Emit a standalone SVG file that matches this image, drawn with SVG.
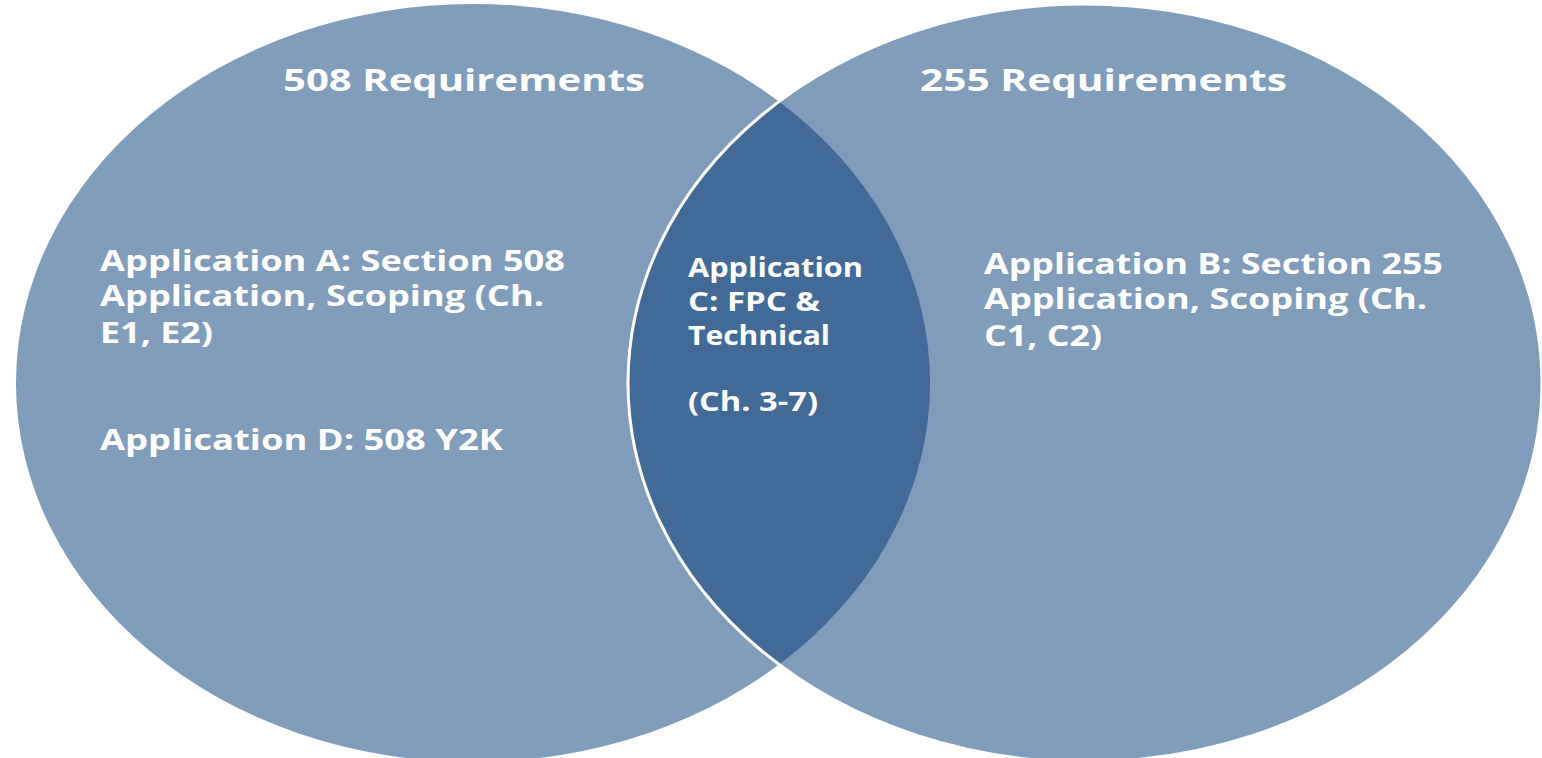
<svg xmlns="http://www.w3.org/2000/svg" width="1542" height="758" viewBox="0 0 1542 758">
  <style>
    .set { fill: #7F9CBA; }
    .edge { fill: none; stroke: #FFFFFF; stroke-width: 3; }
    .overlap { fill: #416A96; }
    text { font-family: "Open Sans", "Liberation Sans", sans-serif; font-weight: bold; fill: #FFFFFF; }
    .title { font-size: 31px; }
    .body { font-size: 28px; }
    .mid { font-size: 26px; }
  </style>
  <defs>
    <clipPath id="clipRight">
      <ellipse cx="1085" cy="383" rx="457" ry="379"/>
    </clipPath>
  </defs>
  <rect x="0" y="0" width="1542" height="758" fill="#FFFFFF"/>

  <g id="set-508">
    <ellipse class="set" cx="473" cy="383" rx="457" ry="379"/>
  </g>
  <g id="set-255">
    <ellipse class="set" cx="1085" cy="383" rx="457" ry="379"/>
  </g>
  <g id="overlap">
    <ellipse class="overlap" cx="473" cy="383" rx="457" ry="379" clip-path="url(#clipRight)"/>
    <ellipse class="edge" cx="1085" cy="383" rx="457" ry="379"/>
  </g>

  <g id="label-508">
    <text class="title" x="283" y="91" textLength="362" lengthAdjust="spacingAndGlyphs">508 Requirements</text>
    <text class="body" x="100" y="271" textLength="465" lengthAdjust="spacingAndGlyphs">Application A: Section 508</text>
    <text class="body" x="100" y="306" textLength="444" lengthAdjust="spacingAndGlyphs">Application, Scoping (Ch.</text>
    <text class="body" x="100" y="343" textLength="113" lengthAdjust="spacingAndGlyphs">E1, E2)</text>
    <text class="body" x="100" y="450" textLength="403" lengthAdjust="spacingAndGlyphs">Application D: 508 Y2K</text>
  </g>

  <g id="label-255">
    <text class="title" x="920" y="91" textLength="367" lengthAdjust="spacingAndGlyphs">255 Requirements</text>
    <text class="body" x="984" y="274" textLength="459" lengthAdjust="spacingAndGlyphs">Application B: Section 255</text>
    <text class="body" x="984" y="309" textLength="443" lengthAdjust="spacingAndGlyphs">Application, Scoping (Ch.</text>
    <text class="body" x="984" y="346" textLength="118" lengthAdjust="spacingAndGlyphs">C1, C2)</text>
  </g>

  <g id="label-overlap">
    <text class="mid" x="688" y="277" textLength="175" lengthAdjust="spacingAndGlyphs">Application</text>
    <text class="mid" x="688" y="311" textLength="132" lengthAdjust="spacingAndGlyphs">C: FPC &amp;</text>
    <text class="mid" x="688" y="345" textLength="142" lengthAdjust="spacingAndGlyphs">Technical</text>
    <text class="mid" x="688" y="411" textLength="130" lengthAdjust="spacingAndGlyphs">(Ch. 3-7)</text>
  </g>
</svg>
